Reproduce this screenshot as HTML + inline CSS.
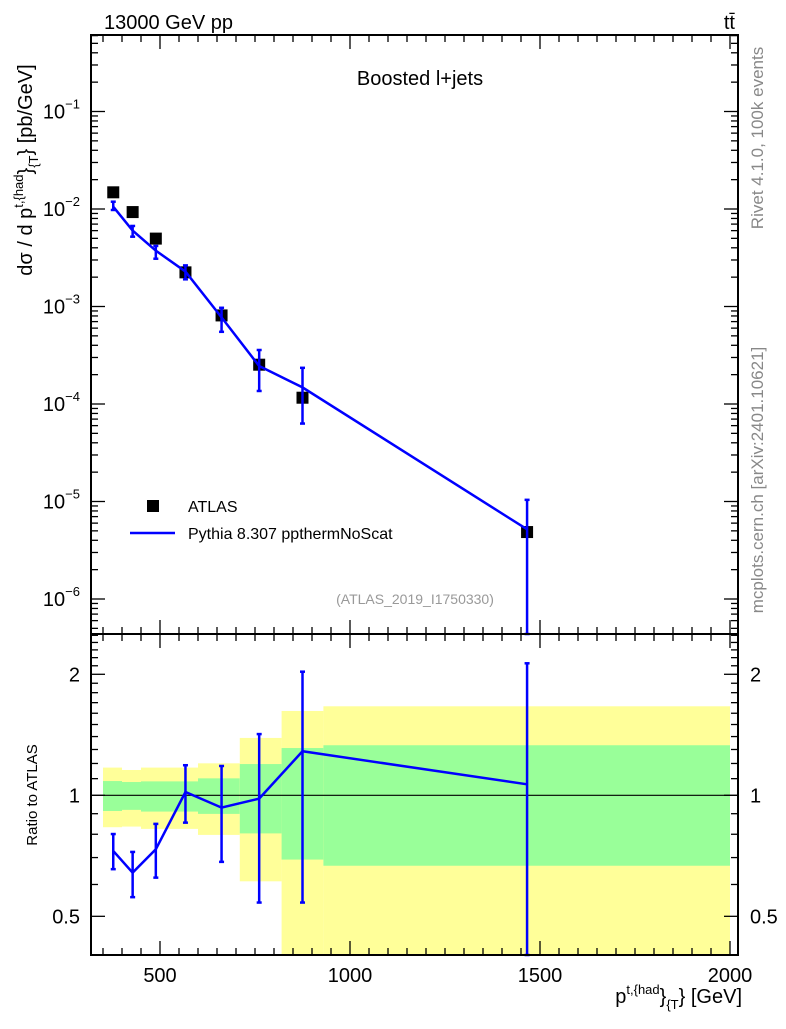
<!DOCTYPE html>
<html><head><meta charset="utf-8"><style>
body{margin:0;background:#fff}
svg{font-family:"Liberation Sans",Arial,sans-serif}
</style></head><body>
<svg id="c" width="786" height="1024" viewBox="0 0 786 1024">
<g id="bands"></g>
<g id="ticks"></g>
<g id="marks"></g>
<rect x="91" y="35" width="647" height="599" fill="none" stroke="#000" stroke-width="2"/>
<rect x="91" y="634" width="647" height="321" fill="none" stroke="#000" stroke-width="2"/>
<text x="104" y="29" font-size="20">13000 GeV pp</text>
<text x="735" y="29" font-size="20" text-anchor="end">tt̄</text>
<text x="420" y="85" font-size="20" text-anchor="middle">Boosted l+jets</text>
<text x="415" y="604" font-size="14" fill="#999" text-anchor="middle">(ATLAS_2019_I1750330)</text>
<text transform="translate(763,138) rotate(-90)" font-size="17" fill="#888" text-anchor="middle">Rivet 4.1.0,  100k events</text>
<text transform="translate(763,480) rotate(-90)" font-size="17" fill="#888" text-anchor="middle">mcplots.cern.ch [arXiv:2401.10621]</text>
<text transform="translate(32,170) rotate(-90)" font-size="20" text-anchor="middle">dσ / d p<tspan font-size="13" dy="-9">t,{had</tspan><tspan dy="9">}</tspan><tspan font-size="13" dy="6">{T</tspan><tspan dy="-6">} [pb/GeV]</tspan></text>
<text transform="translate(37,795) rotate(-90)" font-size="15" text-anchor="middle">Ratio to ATLAS</text>
<text x="742" y="1003" font-size="20" text-anchor="end">p<tspan font-size="13" dy="-9">t,{had</tspan><tspan dy="9">}</tspan><tspan font-size="13" dy="6">{T</tspan><tspan dy="-6">} [GeV]</tspan></text>
<g>
<rect x="147" y="500" width="12" height="12" fill="#000"/>
<text x="188" y="512" font-size="16">ATLAS</text>
<line x1="130" y1="533" x2="175" y2="533" stroke="#00f" stroke-width="2.5"/>
<text x="188" y="539" font-size="16">Pythia 8.307 ppthermNoScat</text>
</g>
</svg>
<script>
const dataX=[377,428,489,567,662,761,875,1466];
const dataY=[0.01483,0.0093,0.00497,0.00224,8.1e-4,2.53e-4,1.16e-4,4.86e-6];
const mcY=[0.01056,0.006,0.00374,0.00228,7.74e-4,2.45e-4,1.48e-4,5.18e-6];
const mcHi=[0.01188,0.0067,0.00418,0.00264,9.7e-4,3.58e-4,2.35e-4,1.04e-5];
const mcLo=[0.00977,0.0052,0.00309,0.0019,5.5e-4,1.36e-4,6.3e-5,1e-8];
const ratio=[0.727,0.642,0.734,1.019,0.932,0.981,1.287,1.065];
const ratioHi=[0.801,0.723,0.849,1.188,1.183,1.42,2.03,2.13];
const ratioLo=[0.655,0.558,0.624,0.855,0.683,0.541,0.541,0.1];
const binEdges=[350,400,450,600,710,820,930,2000];
const yelHi=[1.172,1.156,1.172,1.201,1.389,1.621,1.665];
const yelLo=[0.833,0.836,0.825,0.797,0.611,0.3,0.3];
const grnHi=[1.085,1.079,1.083,1.102,1.196,1.311,1.332];
const grnLo=[0.914,0.920,0.911,0.899,0.804,0.692,0.668];
const xTicks=[500,1000,1500,2000];
const yTickExp=[-1,-2,-3,-4,-5,-6];
const rTicks=[2,1,0.5];

const NS="http://www.w3.org/2000/svg";
const X=v=>160+(v-500)*0.38;
const Y=v=>209-(Math.log10(v)+2)*97.5;
const R=v=>795.3-Math.log10(v)*402;
const clampM=y=>Math.min(Math.max(y,35),634);
const clampR=y=>Math.min(Math.max(y,634),955);
function mk(p,tag,a){const e=document.createElementNS(NS,tag);for(const k in a)e.setAttribute(k,a[k]);p.appendChild(e);return e;}
const B=document.getElementById('bands'),T=document.getElementById('ticks'),M=document.getElementById('marks');

for(let i=0;i<yelHi.length;i++){
  const x0=X(binEdges[i]),x1=X(binEdges[i+1]);
  let y0=clampR(R(yelHi[i])),y1=clampR(R(yelLo[i]));
  let e=mk(B,'rect',{x:x0,y:y0,width:x1-x0,height:y1-y0,fill:'#ffff99'});
  
  
  y0=clampR(R(grnHi[i]));y1=clampR(R(grnLo[i]));
  e=mk(B,'rect',{x:x0,y:y0,width:x1-x0,height:y1-y0,fill:'#99ff99'});
  
  
}
let ref=mk(B,'line',{x1:91,x2:738,y1:R(1),y2:R(1),stroke:'#000','stroke-width':1.2});



for(let v=350;v<=2000;v+=50){
  const x=X(v),maj=v%500===0,L=maj?14:7;
  [[35,35+L],[634,634-L],[634,634+L],[955,955-L]].forEach(p=>mk(T,'line',{x1:x,x2:x,y1:p[0],y2:p[1],stroke:'#000','stroke-width':1.3}));
}
xTicks.forEach(v=>{const t=mk(T,'text',{x:X(v),y:982,'font-size':20,'text-anchor':'middle'});t.textContent=v;

});
for(let e=-7;e<=0;e++){for(let m=1;m<10;m++){const v=m*Math.pow(10,e),y=Y(v);if(y<35||y>634)continue;const L=m===1?14:7;
mk(T,'line',{x1:91,x2:91+L,y1:y,y2:y,stroke:'#000','stroke-width':1.3});mk(T,'line',{x1:738,x2:738-L,y1:y,y2:y,stroke:'#000','stroke-width':1.3});}}
yTickExp.forEach(e=>{const t=mk(T,'text',{x:80,y:Y(Math.pow(10,e))+7,'font-size':20,'text-anchor':'end'});t.innerHTML='10<tspan font-size="13" dy="-10">'+(e===-1?'−1':'−'+(-e))+'</tspan>';

});
for(let v=0.4;v<=2.55;v+=0.1){const vv=Math.round(v*10)/10,y=R(vv);if(y<634||y>955)continue;const L=(vv===1||vv===2||vv===0.5)?14:7;
mk(T,'line',{x1:91,x2:91+L,y1:y,y2:y,stroke:'#000','stroke-width':1.3});mk(T,'line',{x1:738,x2:738-L,y1:y,y2:y,stroke:'#000','stroke-width':1.3});}
rTicks.forEach(v=>{[[80,'end'],[750,'start']].forEach(p=>{const t=mk(T,'text',{x:p[0],y:R(v)+7,'font-size':20,'text-anchor':p[1]});t.textContent=v;

});});

dataX.forEach((v,i)=>{const r=mk(M,'rect',{x:X(v)-6,y:Y(dataY[i])-6,width:12,height:12,fill:'#000'});

});
let pl=mk(M,'polyline',{points:dataX.map((v,i)=>X(v)+','+Y(mcY[i])).join(' '),fill:'none',stroke:'#00f','stroke-width':2.5});


let rl=mk(M,'polyline',{points:dataX.map((v,i)=>X(v)+','+R(ratio[i])).join(' '),fill:'none',stroke:'#00f','stroke-width':2.5});


function err(x,y0,y1,nm){const g=mk(M,'g',{stroke:'#00f','stroke-width':2.5});


mk(g,'line',{x1:x,x2:x,y1:y0,y2:y1});mk(g,'line',{x1:x-2.5,x2:x+2.5,y1:y0,y2:y0});mk(g,'line',{x1:x-2.5,x2:x+2.5,y1:y1,y2:y1});}
dataX.forEach((v,i)=>{err(X(v),clampM(Y(mcHi[i])),clampM(Y(mcLo[i])),'pythia-error-bar');
err(X(v),clampR(R(ratioHi[i])),clampR(R(ratioLo[i])),'ratio-error-bar');});
</script>
</body></html>
